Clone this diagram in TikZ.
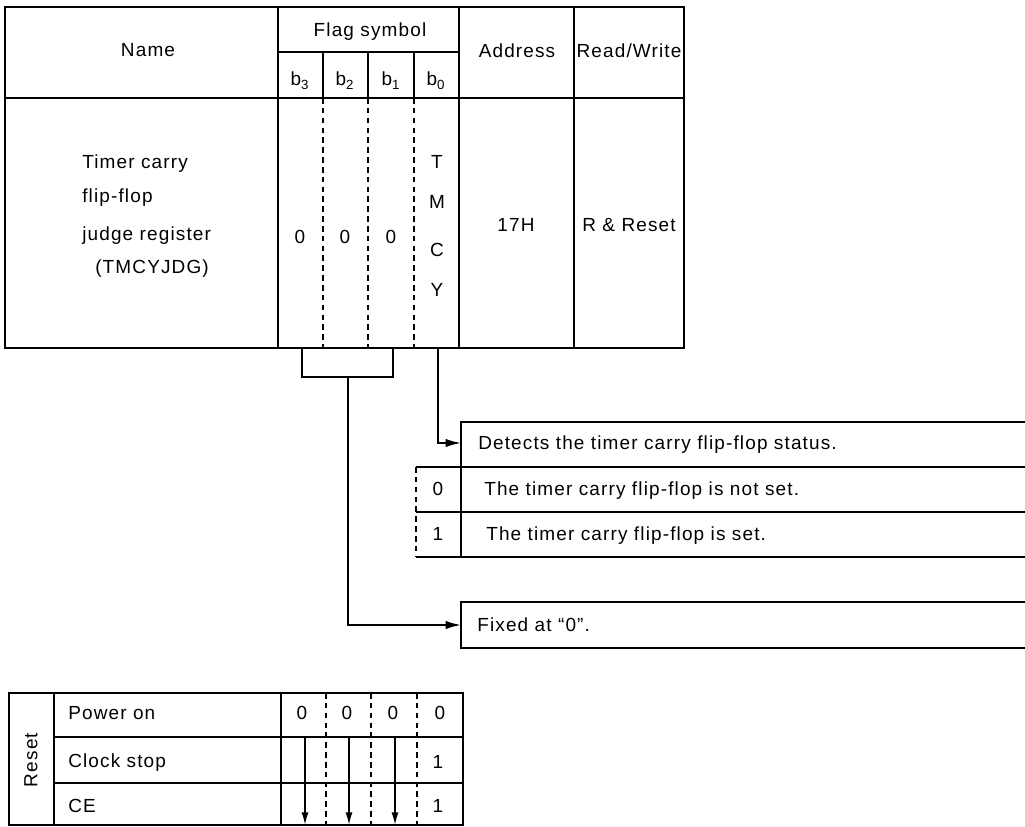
\documentclass[tikz,border=0pt]{standalone}
\usepackage{fontspec}
\setmainfont[LetterSpace=6]{Liberation Sans}
\usetikzlibrary{arrows.meta}
\begin{document}
\begin{tikzpicture}[
  x=0.025cm, y=-0.025cm,
  frame/.style={line width=1.8pt},
  rule/.style={line width=1.2pt},
  dots/.style={line width=1.1pt, dash pattern=on 4pt off 3pt},
  lbl/.style={font=\fontsize{13.5}{16}\selectfont, inner sep=0pt, anchor=base},
  lblw/.style={lbl, anchor=base west},
  feed/.style={line width=1.2pt, -{Latex[length=11pt,width=6pt]}},
  drop/.style={line width=1.2pt, -{Latex[length=9pt,width=5pt]}},
]
\useasboundingbox (0,0) rectangle (1025,827);

% register table: frame and rules
\draw[frame] (5,7) rectangle (684,348);
\draw[frame] (5,98) -- (684,98);
\draw[rule] (278,7) -- (278,348);
\draw[rule] (459,7) -- (459,348);
\draw[rule] (574,7) -- (574,348);
\draw[rule] (278,52) -- (459,52);
\draw[rule] (323,52) -- (323,98);
\draw[rule] (368,52) -- (368,98);
\draw[rule] (414,52) -- (414,98);
\draw[dots] (323,98) -- (323,348);
\draw[dots] (368,98) -- (368,348);
\draw[dots] (414,98) -- (414,348);

% register table: header
\node[lbl] (name) at (148,57) {Name};
\node[lbl] (flag) at (370,37) {Flag symbol};
\node[lbl] (b3)   at (300,86) {b\textsubscript{3}};
\node[lbl] (b2)   at (345,86) {b\textsubscript{2}};
\node[lbl] (b1)   at (391,86) {b\textsubscript{1}};
\node[lbl] (b0)   at (436,86) {b\textsubscript{0}};
\node[lbl] (addr) at (517,58) {Address};
\node[lbl] (rw)   at (629,58) {Read/Write};

% register table: body
\node[lblw] (nm1) at (82,169)  {Timer carry};
\node[lblw] (nm2) at (82,202)  {flip-flop};
\node[lblw] (nm3) at (82,240)  {judge register};
\node[lblw] (nm4) at (95,273)  {(TMCYJDG)};
\node[lbl]  (v3)  at (300,243) {0};
\node[lbl]  (v2)  at (345,243) {0};
\node[lbl]  (v1)  at (391,243) {0};
\node[lbl]  (fT)  at (437,169) {T};
\node[lbl]  (fM)  at (437,208) {M};
\node[lbl]  (fC)  at (437,256) {C};
\node[lbl]  (fY)  at (437,296) {Y};
\node[lbl]  (adv) at (516,231) {17H};
\node[lbl]  (rwv) at (629,231) {R \& Reset};

% leads from the bits to their descriptions
\draw[rule] (302,348) |- (393,377) -- (393,348);
\coordinate (brk)   at (348,377);
\coordinate (tmcy)  at (438,348);
\coordinate (detin) at (461,443);
\coordinate (fixin) at (461,625);
\draw[feed] (tmcy) |- (detin);
\draw[feed] (brk) |- (fixin);

% b0 description
\draw[frame] (1025,422) -- (461,422) -- (461,557);
\draw[rule]  (461,467) -- (1025,467);
\draw[rule]  (416,467) -- (461,467);
\draw[rule]  (416,512) -- (1025,512);
\draw[frame] (416,557) -- (1025,557);
\draw[dots]  (416,467) -- (416,557);
\node[lblw] (det)  at (478,449) {Detects the timer carry flip-flop status.};
\node[lbl]  (s0)   at (438,495) {0};
\node[lblw] (s0t)  at (484,495) {The timer carry flip-flop is not set.};
\node[lbl]  (s1)   at (438,540) {1};
\node[lblw] (s1t)  at (486,540) {The timer carry flip-flop is set.};

% b3..b1 description
\draw[frame] (1025,602) -- (461,602) -- (461,648) -- (1025,648);
\node[lblw] (fix) at (477,631) {Fixed at ``0''.};

% reset table
\draw[frame] (9,693) rectangle (463,825);
\draw[rule] (54,693) -- (54,825);
\draw[rule] (281,693) -- (281,825);
\draw[rule] (54,737) -- (463,737);
\draw[rule] (54,783) -- (463,783);
\draw[dots] (326,693) -- (326,825);
\draw[dots] (371,693) -- (371,825);
\draw[dots] (417,693) -- (417,825);
\node[lbl, rotate=90, anchor=center] (reset) at (31,760) {Reset};
\node[lblw] (pon)  at (68,719) {Power on};
\node[lblw] (cst)  at (68,767) {Clock stop};
\node[lblw] (ce)   at (68,812) {CE};
\node[lbl] (p3) at (302,719) {0};
\node[lbl] (p2) at (347,719) {0};
\node[lbl] (p1) at (393,719) {0};
\node[lbl] (p0) at (440,719) {0};
\node[lbl] (c0) at (438,768) {1};
\node[lbl] (e0) at (438,812) {1};
\coordinate (k3) at (305,737);
\coordinate (k2) at (349,737);
\coordinate (k1) at (395,737);
\coordinate (d3) at (305,825);
\coordinate (d2) at (349,825);
\coordinate (d1) at (395,825);
\draw[drop] (k3) -- (d3);
\draw[drop] (k2) -- (d2);
\draw[drop] (k1) -- (d1);
\end{tikzpicture}
\end{document}
